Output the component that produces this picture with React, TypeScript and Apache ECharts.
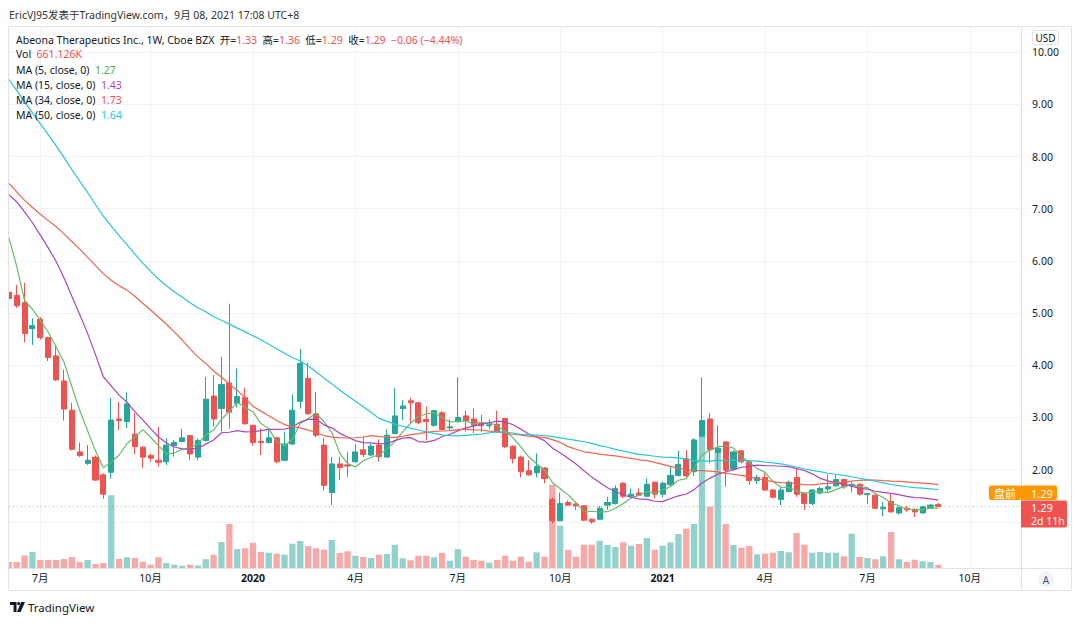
import React, { useEffect, useRef } from 'react';
import * as echarts from 'echarts';

const FONT = '"Noto Sans", "Noto Sans CJK SC", sans-serif';

// weekly bars; the first visible bar is the week of 2019-06-03
const firstWeekUTC = Date.UTC(2019, 5, 3);
const weekSlots = 129;

const opens = [5.40,5.34,5.20,4.70,4.88,4.53,4.18,3.70,3.14,2.34,
 2.12,2.24,1.90,1.95,2.97,2.92,2.68,2.43,2.27,2.18,
 2.15,2.46,2.54,2.65,2.24,2.56,3.41,3.17,3.66,3.27,
 3.38,2.85,2.54,2.52,2.61,2.18,2.49,3.31,3.75,3.07,
 2.47,1.56,2.11,2.09,2.15,2.38,2.28,2.47,2.24,2.69,
 3.17,3.32,3.28,2.96,2.85,3.09,2.80,2.92,3.03,2.97,
 2.90,2.84,2.87,2.98,2.45,2.24,1.98,1.94,2.03,1.43,
 1.02,1.37,1.34,1.31,1.05,1.05,1.32,1.35,1.74,1.49,
 1.55,1.49,1.76,1.53,1.71,1.89,2.21,1.96,2.64,2.97,
 2.33,2.53,2.01,2.36,2.15,1.79,1.85,1.61,1.43,1.58,
 1.85,1.55,1.35,1.55,1.63,1.69,1.81,1.69,1.72,1.52,
 1.51,1.25,1.39,1.17,1.26,1.24,1.17,1.27,1.33];

const closes = [5.28,5.14,4.61,4.76,4.53,4.15,3.72,3.16,2.39,2.27,
 2.18,1.80,1.53,2.95,2.94,3.26,2.44,2.24,2.22,2.14,
 2.47,2.52,2.61,2.30,2.56,3.35,2.97,3.63,3.10,3.40,
 2.88,2.52,2.52,2.61,2.15,2.49,3.14,4.04,3.07,2.66,
 1.70,2.11,2.04,2.07,2.34,2.29,2.45,2.25,2.66,3.03,
 3.22,3.28,2.90,2.92,3.13,2.77,2.82,3.00,2.94,2.85,
 2.84,2.86,2.72,2.44,2.21,1.96,1.90,2.06,1.83,1.02,
 1.35,1.32,1.31,1.03,1.00,1.26,1.37,1.64,1.49,1.53,
 1.51,1.72,1.53,1.74,1.89,2.10,1.88,2.57,2.94,2.38,
 2.41,1.99,2.34,2.15,1.79,1.85,1.61,1.47,1.61,1.76,
 1.53,1.35,1.61,1.64,1.67,1.81,1.67,1.72,1.53,1.54,
 1.26,1.28,1.19,1.27,1.23,1.19,1.29,1.32,1.29];

const highs = [5.42,5.54,5.58,4.90,4.92,4.55,4.37,3.92,3.28,2.52,
 2.47,2.27,1.93,3.37,3.30,3.48,3.08,2.45,2.31,2.82,
 2.60,2.57,2.78,2.66,2.60,3.78,3.81,4.16,5.18,3.94,
 3.57,2.86,2.79,2.79,2.63,2.73,3.44,4.31,4.05,3.49,
 2.60,2.24,2.25,2.34,2.49,2.63,2.50,2.58,2.77,3.56,
 3.33,3.38,3.30,3.21,3.15,3.12,2.96,3.77,3.13,3.17,
 3.05,2.96,3.13,2.99,2.46,2.27,2.18,2.31,2.05,1.47,
 1.56,1.41,1.36,1.32,1.06,1.30,1.48,1.70,1.76,1.64,
 1.64,1.83,1.77,1.77,2.06,2.36,2.37,2.60,3.77,3.08,
 2.85,2.55,2.37,2.38,2.17,1.90,1.93,1.63,1.67,1.79,
 2.03,1.56,1.63,1.67,1.91,1.91,1.83,1.76,1.74,1.55,
 1.53,1.38,1.55,1.29,1.30,1.26,1.31,1.34,1.36];

const lows = [5.25,5.10,4.44,4.39,4.49,4.08,3.70,2.94,2.37,2.24,
 2.09,1.78,1.44,1.83,2.76,2.80,2.30,2.04,2.15,2.06,
 2.09,2.25,2.52,2.18,2.18,2.54,2.82,2.73,2.79,3.19,
 2.86,2.46,2.28,2.50,2.12,2.16,2.47,3.17,3.05,2.62,
 1.60,1.32,1.80,1.86,2.13,2.24,2.26,2.15,2.23,2.68,
 2.95,2.89,2.87,2.57,2.82,2.75,2.76,2.90,2.73,2.70,
 2.72,2.78,2.70,2.41,2.12,1.85,1.89,1.85,1.74,0.97,
 1.01,1.30,1.23,1.01,0.96,1.03,1.23,1.33,1.45,1.44,
 1.50,1.47,1.45,1.47,1.69,1.87,1.86,1.88,2.62,2.12,
 1.99,1.67,1.98,2.12,1.71,1.72,1.59,1.45,1.32,1.56,
 1.48,1.23,1.32,1.52,1.57,1.67,1.63,1.57,1.50,1.34,
 1.25,1.11,1.18,1.14,1.19,1.09,1.15,1.26,1.29];

// weekly volume, millions of shares
const volumes = [1.20,1.20,2.50,3.20,1.60,1.60,1.60,1.80,2.20,1.20,
 1.60,0.80,1.00,14.54,1.80,2.14,2.00,1.26,0.68,2.16,
 1.00,0.66,0.44,0.66,0.50,1.76,2.66,5.20,8.80,3.80,
 3.94,5.04,3.20,3.06,2.86,2.66,4.86,5.40,4.36,3.94,
 3.66,5.60,3.00,3.34,2.46,2.20,2.00,2.66,2.80,4.66,
 1.94,1.54,2.46,2.46,2.14,3.00,1.46,3.76,2.26,1.60,
 1.46,1.06,1.60,2.46,1.46,2.26,1.26,3.14,2.26,16.66,
 8.46,3.60,2.26,4.66,4.66,5.46,4.64,4.20,5.14,4.46,
 4.80,6.00,3.66,4.46,5.14,6.80,7.86,8.80,27.20,12.26,
 24.00,8.80,4.60,4.06,4.40,2.74,2.86,3.06,3.40,3.14,
 7.00,4.66,3.06,3.20,3.06,3.06,2.34,6.86,2.20,2.00,
 1.74,2.34,7.20,1.74,1.20,1.66,1.34,1.20,0.661];

// closes of the 49 weeks before the visible window (oldest first); they only seed the moving averages
const priorCloses = [15.8,15.4,15.6,14.9,14.6,14.2,14.5,13.9,13.4,13.1,13.3,12.8,12.4,12.1,11.8,11.6,
 10.8,10.2,9.4,8.9,8.3,7.6,7.9,7.4,7.2,7.6,7.1,6.8,7.2,
 6.5,6.2,6.4,6.8,6.6,6.7,
 7.2,7.5,7.9,8.1,7.8,7.6,7.9,7.7,7.5,7.6,
 7.9,7.9,5.6,5.58];

const maPeriods = [5, 15, 34, 50];
const maColors = ['#66bb6a', '#ab47bc', '#f0654f', '#26c6da'];
const maLegendValues = ['1.27', '1.43', '1.73', '1.64'];

const UP = '#26a69a';
const DOWN = '#ef5350';
const UP_VOL = '#92d2cc';
const DOWN_VOL = '#f7a9a7';
const GRID = '#f0f3fa';
const BORDER = '#e0e3eb';
const TEXT = '#131722';
const FS = 10.5;

const PLOT_LEFT = 4.86;
const PLOT_WIDTH = 1016.2;

export default function App() {
  const ref = useRef<HTMLDivElement>(null);

  useEffect(() => {
    const chart = echarts.init(ref.current!, null, { renderer: 'svg' });

    const categories: string[] = [];
    const labelText: Record<number, string> = {};
    let prevMonth = -1;
    for (let i = 0; i < weekSlots; i++) {
      const d = new Date(firstWeekUTC + i * 7 * 86400000);
      const m = d.getUTCMonth();
      categories.push(d.toISOString().slice(0, 10));
      if (i > 0 && m !== prevMonth && m % 3 === 0) {
        labelText[i] = m === 0 ? `{y|${d.getUTCFullYear()}}` : `${m + 1}月`;
      }
      prevMonth = m;
    }
    const labelIdx = Object.keys(labelText).map(Number);

    const allCloses = priorCloses.concat(closes);
    const off = priorCloses.length;
    const maSeries = maPeriods.map((n, k) => {
      const data = closes.map((_, i) => {
        let s = 0;
        for (let j = off + i - n + 1; j <= off + i; j++) s += allCloses[j];
        return +(s / n).toFixed(4);
      });
      return {
        type: 'line', name: `MA${n}`, xAxisIndex: 0, yAxisIndex: 0, data,
        showSymbol: false, symbol: 'none', z: 4,
        lineStyle: { color: maColors[k], width: 1.2 }, silent: true,
      };
    });

    const candleData = opens.map((o, i) => [o, closes[i], lows[i], highs[i]]);
    const volData = volumes.map((v, i) => ({
      value: v,
      itemStyle: { color: closes[i] >= opens[i] ? UP_VOL : DOWN_VOL },
    }));

    const splitColors = ['rgba(0,0,0,0)'];
    for (let i = 1; i <= 10; i++) splitColors.push(GRID);
    splitColors.push('rgba(0,0,0,0)');

    const legendLines = [
      { y: 69.5, text: `{d|MA (5, close, 0)}  {c0|${maLegendValues[0]}}` },
      { y: 84.8, text: `{d|MA (15, close, 0)}  {c1|${maLegendValues[1]}}` },
      { y: 100.1, text: `{d|MA (34, close, 0)}  {c2|${maLegendValues[2]}}` },
      { y: 115.4, text: `{d|MA (50, close, 0)}  {c3|${maLegendValues[3]}}` },
    ];
    const richBase: any = {
      d: { fill: TEXT, fontSize: FS, fontFamily: FONT },
      r: { fill: DOWN, fontSize: FS, fontFamily: FONT },
      c0: { fill: '#4caf50', fontSize: FS, fontFamily: FONT },
      c1: { fill: maColors[1], fontSize: FS, fontFamily: FONT },
      c2: { fill: '#ef5350', fontSize: FS, fontFamily: FONT },
      c3: { fill: maColors[3], fontSize: FS, fontFamily: FONT },
    };

    const option: any = {
      animation: false,
      backgroundColor: '#ffffff',
      textStyle: { fontFamily: FONT },
      grid: [
        { left: PLOT_LEFT, width: PLOT_WIDTH, top: 0, height: 574 },
        { left: PLOT_LEFT, width: PLOT_WIDTH, top: 26, height: 542 },
      ],
      xAxis: [
        {
          type: 'category', gridIndex: 0, data: categories, boundaryGap: true,
          axisLine: { show: false }, axisTick: { show: false }, axisLabel: { show: false },
          splitLine: { show: false },
        },
        {
          type: 'category', gridIndex: 1, data: categories, boundaryGap: true,
          axisLine: { show: false }, axisTick: { show: false },
          splitLine: { show: false },
          axisLabel: {
            show: true, margin: 5, color: TEXT, fontSize: FS, fontFamily: FONT,
            interval: (index: number) => labelText[index] !== undefined,
            formatter: (_: string, index: number) => labelText[index] || '',
            rich: { y: { fontWeight: 'bold', fontSize: FS, color: TEXT, fontFamily: FONT } },
          },
        },
      ],
      yAxis: [
        {
          type: 'value', gridIndex: 0, position: 'right', min: 0, max: 11, interval: 1,
          axisLine: { show: false }, axisTick: { show: false },
          axisLabel: {
            margin: 11, color: TEXT, fontSize: FS, fontFamily: FONT, align: 'left',
            formatter: (v: number) => (v >= 2 && v <= 10 ? v.toFixed(2) : ''),
          },
          splitLine: { show: true, lineStyle: { color: splitColors, width: 1 } },
        },
        {
          type: 'value', gridIndex: 1, min: 0, max: 108.4,
          axisLine: { show: false }, axisTick: { show: false }, axisLabel: { show: false },
          splitLine: { show: false },
        },
      ],
      series: [
        {
          type: 'bar', name: 'Vol', xAxisIndex: 1, yAxisIndex: 1, data: volData,
          barWidth: 6.3, z: 1, silent: true,
          markLine: {
            silent: true, symbol: 'none', z: 0, animation: false,
            label: { show: false },
            lineStyle: { color: GRID, type: 'solid', width: 1 },
            data: labelIdx.map((i) => ({ xAxis: categories[i] })),
          },
        },
        {
          type: 'candlestick', name: 'ABEO', xAxisIndex: 0, yAxisIndex: 0, data: candleData,
          barWidth: 5.6, z: 3, silent: true,
          itemStyle: { color: UP, color0: DOWN, borderColor: UP, borderColor0: DOWN, borderWidth: 1 },
          markLine: {
            silent: true, symbol: 'none', animation: false,
            label: { show: false },
            lineStyle: { color: '#ff9800', type: [1, 3], width: 1 },
            data: [{ yAxis: 1.29 }],
          },
        },
        ...maSeries,
      ],
      graphic: [
        { type: 'rect', z: 100, shape: { x: 0, y: 0, width: 8, height: 624 }, style: { fill: '#fff' } },
        { type: 'rect', z: 100, shape: { x: 0, y: 0, width: 1080, height: 26 }, style: { fill: '#fff' } },
        { type: 'rect', z: 101, shape: { x: 8.5, y: 26.5, width: 1063, height: 564 }, style: { fill: 'none', stroke: BORDER, lineWidth: 1 } },
        { type: 'line', z: 101, shape: { x1: 8, y1: 568.5, x2: 1072, y2: 568.5 }, style: { stroke: BORDER, lineWidth: 1 } },
        { type: 'line', z: 101, shape: { x1: 1021.5, y1: 26, x2: 1021.5, y2: 591 }, style: { stroke: BORDER, lineWidth: 1 } },
        {
          type: 'text', z: 102, x: 9, y: 14.5,
          style: { text: 'EricVJ95发表于TradingView.com，9月 08, 2021 17:08 UTC+8', fill: '#333', fontSize: FS, fontFamily: FONT, verticalAlign: 'middle' },
        },
        {
          type: 'text', z: 102, x: 16, y: 39.5,
          style: {
            text: '{d|Abeona Therapeutics Inc., 1W, Cboe BZX}  {d|开=}{r|1.33}  {d|高=}{r|1.36}  {d|低=}{r|1.29}  {d|收=}{r|1.29}  {r|−0.06 (−4.44%)}',
            rich: richBase, verticalAlign: 'middle', fontSize: FS, fontFamily: FONT,
          },
        },
        {
          type: 'text', z: 102, x: 16, y: 54.2,
          style: { text: '{d|Vol}  {r|661.126K}', rich: richBase, verticalAlign: 'middle', fontSize: FS, fontFamily: FONT },
        },
        ...legendLines.map((l) => ({
          type: 'text', z: 102, x: 16, y: l.y,
          style: { text: l.text, rich: richBase, verticalAlign: 'middle', fontSize: FS, fontFamily: FONT },
        })),
        // USD
        { type: 'rect', z: 102, shape: { x: 1032.5, y: 30.5, width: 26, height: 14, r: 2 }, style: { fill: '#fff', stroke: BORDER, lineWidth: 1 } },
        { type: 'text', z: 103, x: 1045.5, y: 37.5, style: { text: 'USD', fill: TEXT, fontSize: 10, fontFamily: FONT, align: 'center', verticalAlign: 'middle' } },
        // price labels
        { type: 'rect', z: 102, shape: { x: 989, y: 485.5, width: 32, height: 14.5, r: 2 }, style: { fill: '#ff9800' } },
        { type: 'text', z: 103, x: 1005, y: 493, style: { text: '盘前', fill: '#fff', fontSize: 11, fontFamily: FONT, align: 'center', verticalAlign: 'middle' } },
        { type: 'rect', z: 102, shape: { x: 1021, y: 485.5, width: 36, height: 14.5, r: [0, 2, 2, 0] }, style: { fill: '#ff9800' } },
        { type: 'text', z: 103, x: 1031, y: 493, style: { text: '1.29', fill: '#fff', fontSize: 11, fontFamily: FONT, verticalAlign: 'middle' } },
        { type: 'rect', z: 102, shape: { x: 1021, y: 500.5, width: 46, height: 27, r: [0, 2, 2, 0] }, style: { fill: DOWN } },
        { type: 'text', z: 103, x: 1031, y: 507.5, style: { text: '1.29', fill: '#fff', fontSize: 11, fontFamily: FONT, verticalAlign: 'middle' } },
        { type: 'text', z: 103, x: 1031, y: 520.5, style: { text: '2d 11h', fill: '#fff', fontSize: FS, fontFamily: FONT, verticalAlign: 'middle' } },
        // auto-scale button
        { type: 'circle', z: 102, shape: { cx: 1046, cy: 579, r: 8 }, style: { fill: '#f0f3fa' } },
        { type: 'text', z: 103, x: 1046, y: 579.5, style: { text: 'A', fill: '#50535e', fontSize: 10, fontFamily: FONT, align: 'center', verticalAlign: 'middle' } },
        // TradingView logo
        { type: 'polygon', z: 102, shape: { points: [[10, 602], [16.5, 602], [16.5, 612], [13.6, 612], [13.6, 605], [10, 605]] }, style: { fill: TEXT } },
        { type: 'circle', z: 102, shape: { cx: 18.6, cy: 603.6, r: 1.6 }, style: { fill: TEXT } },
        { type: 'polygon', z: 102, shape: { points: [[21.2, 602], [25, 602], [20.6, 612], [16.9, 612]] }, style: { fill: TEXT } },
        { type: 'text', z: 102, x: 28, y: 607.5, style: { text: 'TradingView', fill: TEXT, fontSize: 11.5, fontFamily: FONT, verticalAlign: 'middle' } },
      ],
    };

    chart.setOption(option);
    return () => chart.dispose();
  }, []);

  return (
    <div
      ref={ref}
      style={{ position: 'absolute', left: 0, top: 0, width: 1080, height: 624, background: '#fff' }}
    />
  );
}
